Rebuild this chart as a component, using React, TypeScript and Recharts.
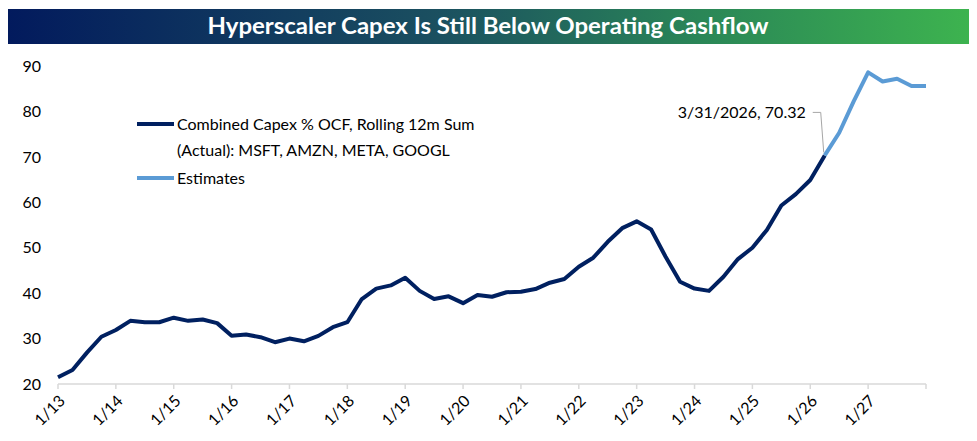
import * as React from 'react';
import { LineChart, Line, XAxis, YAxis, ReferenceDot } from 'recharts';

// quarterly points, index 0 = 1/13, index 60 = 1/28
const actualValues = [
  21.5, 23.1, 26.9, 30.4, 31.9, 33.9, 33.6, 33.6, 34.6, 33.9,
  34.2, 33.4, 30.6, 30.9, 30.3, 29.2, 30.0, 29.4, 30.6, 32.5,
  33.6, 38.7, 41.0, 41.7, 43.4, 40.5, 38.7, 39.3, 37.8, 39.6,
  39.2, 40.2, 40.3, 40.9, 42.3, 43.1, 45.8, 47.8, 51.3, 54.3,
  55.8, 54.0, 48.0, 42.5, 41.0, 40.5, 43.6, 47.5, 50.0, 53.9,
  59.3, 61.8, 64.9, 70.32,
];
const estimateStart = 53;
const estimateValues = [70.32, 75.3, 82.2, 88.6, 86.6, 87.2, 85.6, 85.6];

const xTicks = [0, 4, 8, 12, 16, 20, 24, 28, 32, 36, 40, 44, 48, 52, 56, 60];
const xTickLabels = ['1/13', '1/14', '1/15', '1/16', '1/17', '1/18', '1/19', '1/20',
  '1/21', '1/22', '1/23', '1/24', '1/25', '1/26', '1/27', ''];
const yTicks = [20, 30, 40, 50, 60, 70, 80, 90];

const NAVY = '#002060';
const LIGHT = '#5B9BD5';
const FONT = 'Lato, "Open Sans", sans-serif';

const data = Array.from({ length: estimateStart + estimateValues.length }, (_, i) => ({
  i,
  actual: i < actualValues.length ? actualValues[i] : null,
  estimate: i >= estimateStart ? estimateValues[i - estimateStart] : null,
}));

function LegendBox() {
  const row = (color: string, lines: string[]) => (
    <div style={{ display: 'flex', alignItems: 'flex-start', marginBottom: 2 }}>
      <div style={{ width: 37, height: 4, background: color, marginTop: 11, flexShrink: 0 }} />
      <div style={{ marginLeft: 3, lineHeight: '26px' }}>
        {lines.map((l) => <div key={l}>{l}</div>)}
      </div>
    </div>
  );
  return (
    <div style={{ position: 'absolute', left: 137, top: 111, fontFamily: FONT, fontSize: 16, color: '#000' }}>
      {row(NAVY, ['Combined Capex % OCF, Rolling 12m Sum', '(Actual): MSFT, AMZN, META, GOOGL'])}
      {row(LIGHT, ['Estimates'])}
    </div>
  );
}

function Callout(props: any) {
  const { cx, cy } = props;
  return (
    <g>
      <polyline
        points={`${cx - 12},${cy - 43} ${cx - 4},${cy - 43} ${cx - 1},${cy - 3}`}
        fill="none"
        stroke="#A6A6A6"
        strokeWidth={1}
      />
      <text x={cx - 19} y={cy - 41} textAnchor="end" dominantBaseline="middle"
        fontFamily={FONT} fontSize={16} fill="#000">
        3/31/2026, 70.32
      </text>
    </g>
  );
}

export default function App() {
  return (
    <div style={{ position: 'absolute', left: 0, top: 0, width: 977, height: 441, background: '#fff' }}>
      <svg width={977} height={50} style={{ position: 'absolute', left: 0, top: 0 }}>
        <defs>
          <linearGradient id="titleGrad" x1="0" x2="1" y1="0" y2="0">
            <stop offset="0" stopColor="#021A5D" />
            <stop offset="0.45" stopColor="#1B5060" />
            <stop offset="0.72" stopColor="#2A8657" />
            <stop offset="1" stopColor="#3DB34F" />
          </linearGradient>
        </defs>
        <rect x={8} y={9} width={961} height={35} fill="url(#titleGrad)" />
        <text x={488} y={34} textAnchor="middle" fill="#fff" fontFamily={FONT}
          fontWeight="bold" fontSize={23} textLength={561} lengthAdjust="spacingAndGlyphs">
          Hyperscaler Capex Is Still Below Operating Cashflow
        </text>
      </svg>
      <LineChart
        width={977}
        height={441}
        data={data}
        margin={{ top: 66, right: 51, left: 0, bottom: 0 }}
        style={{ position: 'absolute', left: 0, top: 0 }}
      >
        <XAxis
          dataKey="i"
          type="number"
          domain={[0, 60]}
          ticks={xTicks}
          interval={0}
          tickFormatter={(v: number) => xTickLabels[xTicks.indexOf(v)] ?? ''}
          height={57}
          axisLine={{ stroke: '#D9D9D9', strokeWidth: 1.5 }}
          tickLine={{ stroke: '#D9D9D9', strokeWidth: 1.5 }}
          tickSize={5}
          tickMargin={5}
          angle={-45}
          textAnchor="end"
          tick={{ fontSize: 16, fill: '#000', fontFamily: FONT }}
        />
        <YAxis
          domain={[20, 90]}
          ticks={yTicks}
          interval={0}
          width={58}
          axisLine={false}
          tickLine={false}
          tickMargin={11}
          tick={{ fontSize: 16, fill: '#000', fontFamily: FONT }}
        />
        <Line
          dataKey="actual"
          stroke={NAVY}
          strokeWidth={4}
          strokeLinejoin="round"
          dot={false}
          activeDot={false}
          isAnimationActive={false}
          connectNulls={false}
        />
        <Line
          dataKey="estimate"
          stroke={LIGHT}
          strokeWidth={4}
          strokeLinejoin="round"
          dot={false}
          activeDot={false}
          isAnimationActive={false}
          connectNulls={false}
        />
        <ReferenceDot x={estimateStart} y={actualValues[estimateStart]} r={0} shape={Callout} />
      </LineChart>
      <LegendBox />
    </div>
  );
}
